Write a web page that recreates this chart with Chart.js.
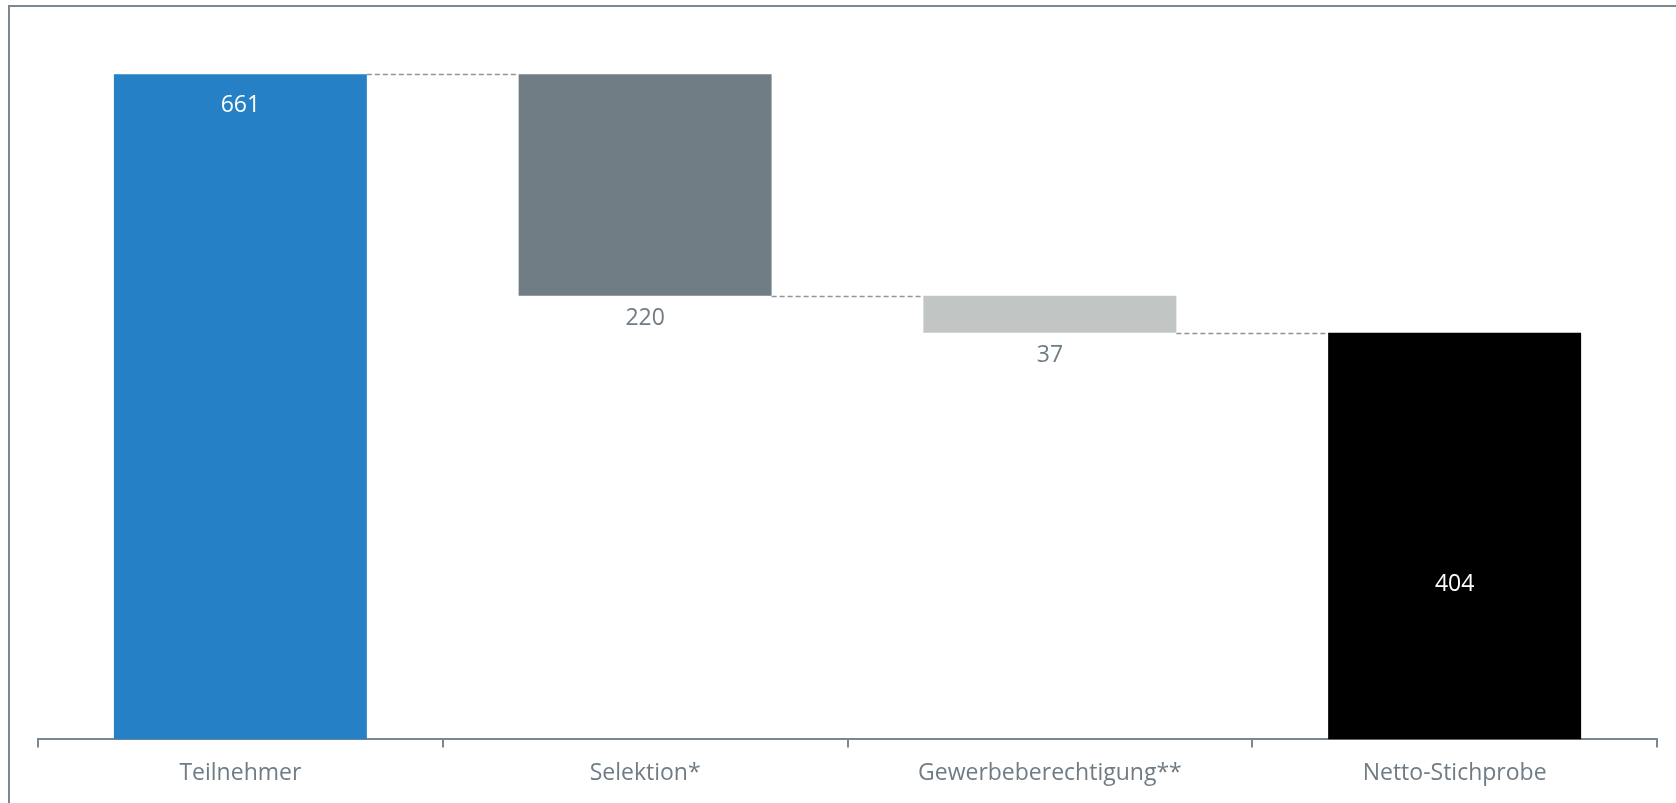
<!DOCTYPE html>
<html>
<head>
<meta charset="utf-8">
<script src="https://cdn.jsdelivr.net/npm/chart.js@4.4.1/dist/chart.umd.min.js"></script>
<style>
    html, body { margin: 0; padding: 0; background: #fff; overflow: hidden; }
    .frame { position: absolute; left: 8px; top: 5px; width: 2000px; height: 2000px; border: 2px solid #7b8891; }
    .wrap { position: absolute; left: 0; top: 0; width: 1676px; height: 803px; }
</style>
</head>
<body>
<div class="frame"></div>
<div class="wrap"><canvas id="chart" width="1676" height="803"></canvas></div>
<script>
const categories = ['Teilnehmer', 'Selektion*', 'Gewerbeberechtigung**', 'Netto-Stichprobe']
const changes = [661, -220, -37, 404]
const isTotal = [true, false, false, true]
const labelTexts = ['661', '220', '37', '404']

const barColors = ['#2580c5', '#717d85', '#c1c6c5', '#000000']
const labelColors = ['#ffffff', '#6f7c85', '#6f7c85', '#ffffff']
const textColor = '#6f7c85'
const axisColor = '#7b8891'
const fontFamily = '"Open Sans", "Noto Sans", sans-serif'

// floating ranges for the waterfall
const ranges = []
let running = 0
for (let i = 0; i < changes.length; i++) {
    if (isTotal[i]) {
        running = changes[i]
        ranges.push([0, running])
    } else {
        ranges.push([running + changes[i], running])
        running += changes[i]
    }
}

const waterfallPlugin = {
    id: 'waterfall',
    afterDatasetsDraw(chart) {
        const ctx = chart.ctx
        const meta = chart.getDatasetMeta(0)
        const y = chart.scales.y

        // dashed connectors
        ctx.save()
        ctx.strokeStyle = '#8f969b'
        ctx.lineWidth = 1.3
        ctx.setLineDash([5, 3])
        for (let i = 0; i < meta.data.length - 1; i++) {
            const bar = meta.data[i]
            const next = meta.data[i + 1]
            const level = isTotal[i] ? ranges[i][1] : ranges[i][0]
            const py = Math.round(y.getPixelForValue(level)) + 0.5
            ctx.beginPath()
            ctx.moveTo(bar.x + bar.width / 2, py)
            ctx.lineTo(next.x - next.width / 2, py)
            ctx.stroke()
        }
        ctx.restore()

        // value labels
        ctx.save()
        ctx.font = '23px ' + fontFamily
        ctx.textAlign = 'center'
        ctx.textBaseline = 'middle'
        meta.data.forEach((bar, i) => {
            let py
            if (i === 0) {
                py = y.getPixelForValue(ranges[i][1]) + 31
            } else if (i === meta.data.length - 1) {
                py = y.getPixelForValue(ranges[i][1] * 0.38)
            } else {
                py = y.getPixelForValue(ranges[i][0]) + 23
            }
            ctx.fillStyle = labelColors[i]
            ctx.fillText(labelTexts[i], bar.x, py)
        })
        ctx.restore()
    }
}

new Chart(document.getElementById('chart'), {
    type: 'bar',
    data: {
        labels: categories,
        datasets: [{
            data: ranges,
            backgroundColor: barColors,
            borderWidth: 0,
            barPercentage: 0.625,
            categoryPercentage: 1
        }]
    },
    options: {
        responsive: false,
        animation: false,
        layout: { padding: { left: 38, right: 19, top: 35, bottom: 4 } },
        plugins: { legend: { display: false }, tooltip: { enabled: false } },
        scales: {
            x: {
                grid: {
                    display: true,
                    offset: true,
                    drawOnChartArea: false,
                    drawTicks: true,
                    tickLength: 8,
                    color: axisColor,
                    lineWidth: 2
                },
                border: { display: true, color: axisColor, width: 2 },
                ticks: { color: textColor, font: { family: fontFamily, size: 23 }, padding: 12 }
            },
            y: {
                display: false,
                min: 0,
                max: 700
            }
        }
    },
    plugins: [waterfallPlugin]
})
</script>
</body>
</html>
